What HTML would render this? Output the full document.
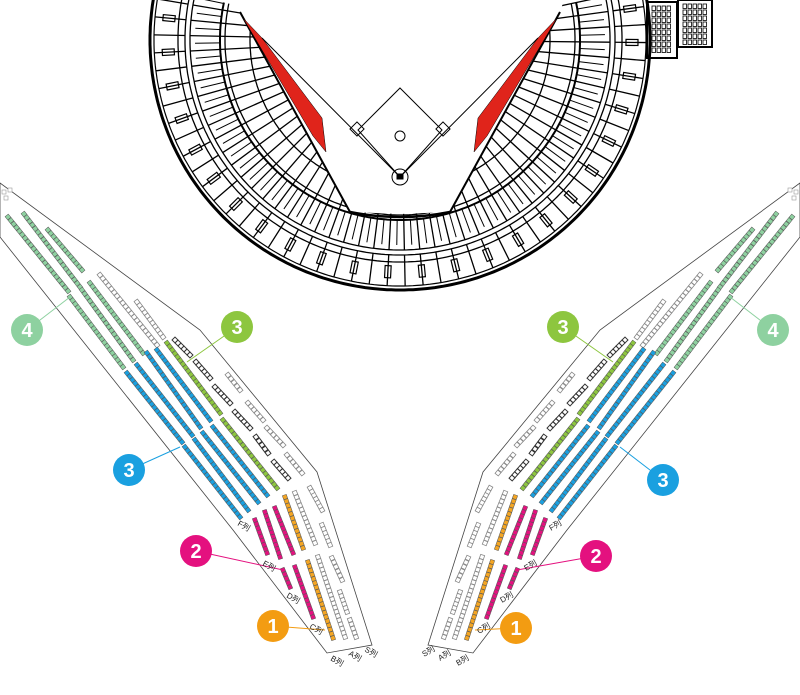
<!DOCTYPE html>
<html><head><meta charset="utf-8"><style>
html,body{margin:0;padding:0;background:#fff;width:800px;height:695px;overflow:hidden}
svg{display:block}
text{font-family:"Liberation Sans","Noto Sans CJK JP",sans-serif}
</style></head><body>
<svg id="s" width="800" height="695" viewBox="0 0 800 695" xmlns="http://www.w3.org/2000/svg">
<g id="stad" fill="none" stroke="#000"></g>
<g id="wingL"></g>
<g id="wingR" transform="translate(800,0) scale(-1,1)"></g>
<g id="top"></g>
</svg>
<script>
var NS="http://www.w3.org/2000/svg";
function el(p,t,a,txt){var e=document.createElementNS(NS,t);for(var k in a)e.setAttribute(k,a[k]);if(txt)e.textContent=txt;p.appendChild(e);return e;}
var st=document.getElementById('stad');
var cx=400,cy=40;
function arc(r,a0,a1,w){var p=[];for(var a=a0;a<=a1+0.01;a+=1){var t=a*Math.PI/180;p.push((cx+r*Math.cos(t)).toFixed(1)+','+(cy+r*Math.sin(t)).toFixed(1));}
el(st,'polyline',{points:p.join(' '),'stroke-width':w});}
[[250,3],[246,1.2],[222,1.3],[215,1.3],[210,1.3],[180,2],[175,1.3],[150,1.3],[125,1.3],[108,1.3]].forEach(function(a){arc(a[0],-12,192,a[1]);});
for(var a=-12;a<=192;a+=4.2){var t=a*Math.PI/180,c=Math.cos(t),s=Math.sin(t);
 el(st,'line',{x1:cx+108*c,y1:cy+108*s,x2:cx+210*c,y2:cy+210*s,'stroke-width':1.3});
 el(st,'line',{x1:cx+215*c,y1:cy+215*s,x2:cx+246*c,y2:cy+246*s,'stroke-width':1.3});
 var a2=a+2.1,t2=a2*Math.PI/180;
 el(st,'line',{x1:cx+180*Math.cos(t2),y1:cy+180*Math.sin(t2),x2:cx+205*Math.cos(t2),y2:cy+205*Math.sin(t2),'stroke-width':1});
 if(Math.round(a/4.2)%2==0){var px=cx+232*c,py=cy+232*s;el(st,'rect',{x:px-3,y:py-6,width:6,height:12,transform:'rotate('+(a+90)+' '+px+' '+py+')','stroke-width':1.2});}
}
el(st,'polygon',{points:'236,0 240,12 350,212 400,214 450,212 560,12 564,0',fill:'#fff',stroke:'none'});
el(st,'polyline',{points:'240,12 350,212','stroke-width':2});
el(st,'polyline',{points:'560,12 450,212','stroke-width':2});
el(st,'path',{d:'M350,212 Q400,222 450,212','stroke-width':2.5});
el(st,'polygon',{points:'243,18 262,38 322,118 326,152 313,136',fill:'#e0241b',stroke:'#000','stroke-width':0.5});
el(st,'polygon',{points:'557,18 538,38 478,118 474,152 487,136',fill:'#e0241b',stroke:'#000','stroke-width':0.5});
el(st,'polyline',{points:'262,38 400,177 538,38','stroke-width':1});
el(st,'polygon',{points:'400,88 442,130 400,177 358,130','stroke-width':1});
el(st,'circle',{cx:400,cy:136,r:5,'stroke-width':1});
el(st,'circle',{cx:400,cy:177,r:8,'stroke-width':1});
el(st,'rect',{x:397,y:174,width:6,height:5,fill:'#000'});
el(st,'rect',{x:352,y:124,width:10,height:10,transform:'rotate(45 357 129)','stroke-width':1});
el(st,'rect',{x:438,y:124,width:10,height:10,transform:'rotate(45 443 129)','stroke-width':1});
[[647,2,30,56],[678,0,34,47]].forEach(function(b){el(st,'rect',{x:b[0],y:b[1],width:b[2],height:b[3],'stroke-width':2});
 for(var y=b[1]+4;y<b[1]+b[3]-5;y+=6)for(var x=b[0]+5;x<b[0]+b[2]-6;x+=5)el(st,'rect',{x:x,y:y,width:3.5,height:4.5,'stroke-width':0.8});});

function wing(g){
 el(g,'polygon',{points:'0,183 200,330 317,472 372,645 327,653 233,530 0,237',fill:'none',stroke:'#444','stroke-width':0.8});
 var G='#8ed1a0',B='#1aa0e0',L='#8dc63f',P='#e4117f',O='#f5a623';
 var rows=[
 [8,217,68,291,G],[24,214,80,287,G],[48,230,82,270,G],
 [70,297,123,367,G],[82,290,133,360,G],[90,283,143,353,G],
 [100,275,157,345,'g'],[137,302,163,337,'g'],
 [127,373,182,442,B],[137,365,192,435,B],[147,353,200,427,B],[157,350,210,420,B],
 [185,447,240,517,B],[195,440,248,510,B],[203,433,258,502,B],[213,427,267,495,B],
 [167,343,220,413,L],[223,420,277,488,L],
 [175,340,190,355,'d'],[196,362,210,378,'d'],[215,387,230,403,'d'],[235,412,250,428,'d'],[256,437,268,453,'d'],[274,462,288,478,'d'],
 [228,375,240,390,'g'],[248,403,263,420,'g'],[267,428,283,445,'g'],[287,455,302,473,'g'],
 [255,520,267,553,P],[265,512,280,557,P],[275,508,293,553,P],[283,570,290,587,P],[295,567,313,617,P],
 [285,497,303,548,O],[308,562,333,638,O],
 [295,493,315,543,'g'],[310,488,322,510,'g'],[322,525,330,545,'g'],[318,557,345,637,'g'],[332,558,342,580,'g'],[340,592,347,612,'g'],[350,620,356,637,'g']
 ];
 rows.forEach(function(r){
  var dx=r[2]-r[0],dy=r[3]-r[1],len=Math.sqrt(dx*dx+dy*dy),ang=Math.atan2(dy,dx)*180/Math.PI;
  var n=Math.max(2,Math.round(len/4.5)+1);
  var c=r[4],fill=c,stroke='#555',sw=0.5;
  if(c=='g'){fill='#fff';stroke='#888';sw=0.8}
  if(c=='d'){fill='#fff';stroke='#333';sw=1}
  for(var i=0;i<n;i++){var x=r[0]+dx*i/(n-1),y=r[1]+dy*i/(n-1);
   el(g,'rect',{x:x-2.1,y:y-2.1,width:4.2,height:4.2,fill:fill,stroke:stroke,'stroke-width':sw,transform:'rotate('+ang+' '+x+' '+y+')'});}
 });
 [[2,190],[8,188],[4,196]].forEach(function(p){el(g,'rect',{x:p[0],y:p[1],width:4,height:4,fill:'#fff',stroke:'#999','stroke-width':0.6});});
}
wing(document.getElementById('wingL'));
wing(document.getElementById('wingR'));

var tp=document.getElementById('top');
function badge(x,y,c,n,lx,ly){el(tp,'line',{x1:x,y1:y,x2:lx,y2:ly,stroke:c,'stroke-width':1});
 el(tp,'circle',{cx:x,cy:y,r:16,fill:c});
 el(tp,'text',{x:x,y:y+7,'text-anchor':'middle','font-size':20,'font-weight':'bold',fill:'#fff'},n);}
badge(27,330,'#8ed1a0','4',70,297);
badge(237,327,'#8dc63f','3',187,362);
badge(129,470,'#1aa0e0','3',180,447);
badge(196,551,'#e4117f','2',283,570);
badge(273,626,'#f39c12','1',325,630);
badge(773,330,'#8ed1a0','4',730,297);
badge(563,327,'#8dc63f','3',613,362);
badge(663,480,'#1aa0e0','3',620,447);
badge(596,556,'#e4117f','2',517,570);
badge(516,628,'#f39c12','1',475,630);
function lbl(x,y,t,rot){el(tp,'text',{x:x,y:y,'font-size':8,fill:'#222',transform:'rotate('+rot+' '+x+' '+y+')'},t);}
[[237,525,'F列'],[262,565,'E列'],[286,597,'D列'],[309,628,'C列'],[330,660,'B列'],[348,655,'A列'],[364,651,'S列']].forEach(function(a){lbl(a[0],a[1],a[2],30);lbl(800-a[0]-12,a[1]+6,a[2],-30);});
</script>
</body></html>
